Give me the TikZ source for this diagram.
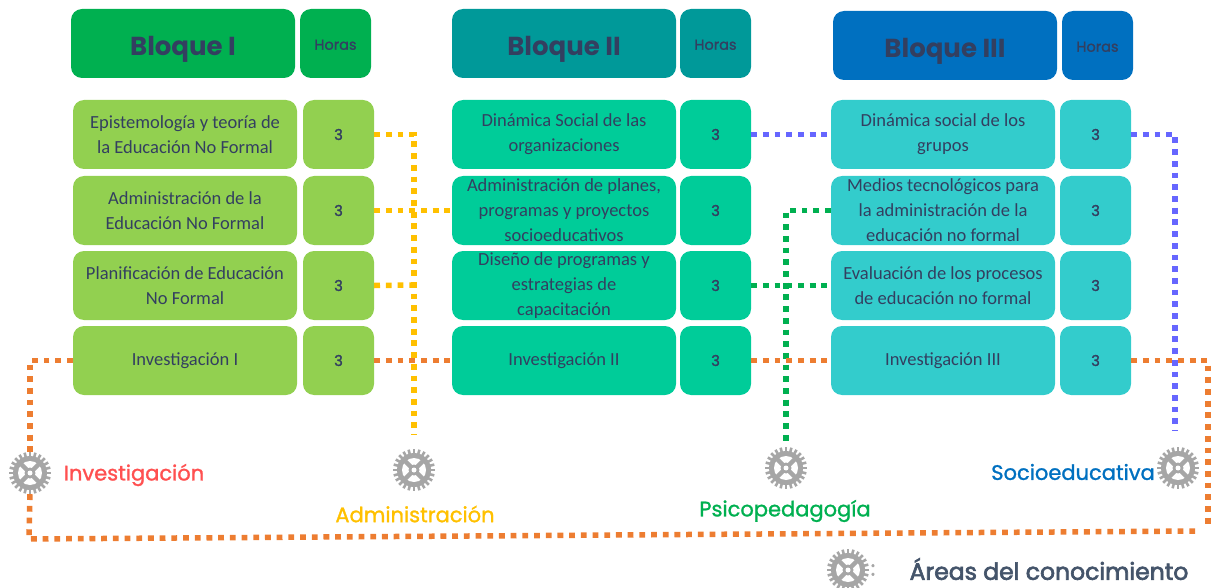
\documentclass[tikz,border=0pt]{standalone}
\usepackage{fontspec}
\setmainfont{Carlito}
\newfontfamily\gothic{Poppins}
\newfontfamily\gothicm[FakeBold=1.2]{Poppins}
\newfontfamily\gothicf[FakeBold=2.8]{Poppins}
\usetikzlibrary{calc}
\definecolor{tinta}{HTML}{333F60}
\definecolor{verdeA}{HTML}{00B050}
\definecolor{verdeB}{HTML}{009999}
\definecolor{azulC}{HTML}{0070C0}
\definecolor{filaA}{HTML}{92D050}
\definecolor{filaB}{HTML}{00CC99}
\definecolor{filaC}{HTML}{33CCCC}
\definecolor{naranja}{HTML}{ED7D31}
\definecolor{amarillo}{HTML}{FFC000}
\definecolor{morado}{HTML}{6666FF}
\definecolor{rojizo}{HTML}{FF5050}
\definecolor{engrane}{HTML}{A6A6A6}
\definecolor{pizarra}{HTML}{44546A}
\tikzset{
  caja/.style={rounded corners=11pt,inner sep=0pt,align=center,text=tinta,font=\fontsize{18.5}{25}\selectfont},
  titulo/.style={caja,minimum width=224pt,minimum height=69pt,text height=28pt,text depth=3pt,font=\gothic\bfseries\fontsize{26}{30}\selectfont},
  hora/.style={caja,minimum width=71pt,minimum height=69pt,text height=12.5pt,text depth=0pt,font=\gothicm\fontsize{14.5}{16}\selectfont},
  materia/.style={caja,minimum width=224pt,minimum height=69pt},
  materiauna/.style={materia,text height=15pt,text depth=4.6pt},
  horas/.style={caja,minimum width=71pt,minimum height=69pt,font=\gothicm\fontsize{15}{16}\selectfont},
  linea/.style={line width=5.5pt,dash pattern=on 5.8pt off 5.9pt},
  rueda/.style={circle,minimum size=42pt,inner sep=0pt},
  area/.style={font=\gothicm\fontsize{21}{24}\selectfont}
}
\newcommand{\dibujarueda}[1]{%
  \fill[engrane] (#1.center) circle (17pt);
  \foreach \a in {0,15,...,345}
    \draw[engrane,line width=2.6pt] ($(#1.center)+(\a:15pt)$) -- ($(#1.center)+(\a:21pt)$);
  \fill[white] (#1.center) circle (12pt);
  \foreach \a in {45,135,225,315}
    \draw[engrane,line width=4.5pt] (#1.center) -- ($(#1.center)+(\a:13pt)$);
  \fill[engrane] (#1.center) circle (5.5pt);
  \fill[white] (#1.center) circle (2.5pt);
}
\begin{document}
\begin{tikzpicture}[x=1pt,y=-1pt]
\useasboundingbox (0,0) rectangle (1217,588);
% encabezados
\node[titulo,fill=verdeA] (tI) at (183,43.5) {Bloque I};
\node[hora,fill=verdeA] (thI) at (335.5,43.5) {Horas};
\node[titulo,fill=verdeB] (tII) at (564,43.5) {Bloque II};
\node[hora,fill=verdeB] (thII) at (715.5,43.5) {Horas};
\node[titulo,fill=azulC] (tIII) at (945,45.5) {Bloque III};
\node[hora,fill=azulC] (thIII) at (1097.5,45.5) {Horas};
% primer bloque
\node[materia,fill=filaA] (mI1) at (185,134.5) {Epistemología y teoría de\\la Educación No Formal};
\node[materia,fill=filaA] (mI2) at (185,210.5) {Administración de la\\Educación No Formal};
\node[materia,fill=filaA] (mI3) at (185,285.5) {Planificación de Educación\\No Formal};
\node[materiauna,fill=filaA] (mI4) at (185,360.5) {Investigación I};
\node[horas,fill=filaA] (hI1) at (338.5,134.5) {3};
\node[horas,fill=filaA] (hI2) at (338.5,210.5) {3};
\node[horas,fill=filaA] (hI3) at (338.5,285.5) {3};
\node[horas,fill=filaA] (hI4) at (338.5,360.5) {3};
% segundo bloque
\node[materia,fill=filaB] (mII1) at (564,134.5) {Dinámica Social de las\\organizaciones};
\node[materia,fill=filaB] (mII2) at (564,210.5) {Administración de planes,\\programas y proyectos\\socioeducativos};
\node[materia,fill=filaB] (mII3) at (564,285.5) {Diseño de programas y\\estrategias de\\capacitación};
\node[materiauna,fill=filaB] (mII4) at (564,360.5) {Investigación II};
\node[horas,fill=filaB] (hII1) at (715.5,134.5) {3};
\node[horas,fill=filaB] (hII2) at (715.5,210.5) {3};
\node[horas,fill=filaB] (hII3) at (715.5,285.5) {3};
\node[horas,fill=filaB] (hII4) at (715.5,360.5) {3};
% tercer bloque
\node[materia,fill=filaC] (mIII1) at (943,134.5) {Dinámica social de los\\grupos};
\node[materia,fill=filaC] (mIII2) at (943,210.5) {Medios tecnológicos para\\la administración de la\\educación no formal};
\node[materia,fill=filaC] (mIII3) at (943,285.5) {Evaluación de los procesos\\de educación no formal};
\node[materiauna,fill=filaC] (mIII4) at (943,360.5) {Investigación III};
\node[horas,fill=filaC] (hIII1) at (1095.5,134.5) {3};
\node[horas,fill=filaC] (hIII2) at (1095.5,210.5) {3};
\node[horas,fill=filaC] (hIII3) at (1095.5,285.5) {3};
\node[horas,fill=filaC] (hIII4) at (1095.5,360.5) {3};
% ruedas
\node[rueda] (gInv) at (30,473) {};
\node[rueda] (gAdm) at (414,470) {};
\node[rueda] (gPsi) at (786,468) {};
\node[rueda] (gSoc) at (1178,468) {};
\node[rueda] (gLey) at (848,570) {};
\coordinate (cAdm) at (414,285);
\coordinate (esqA) at (29,539);
\coordinate (esqB) at (1199,531);
\coordinate (esqC) at (1208,525);
% lineas
\draw[linea,amarillo,shorten >=14pt] (hI1.east) -| (gAdm.north);
\draw[linea,amarillo] (hI2.east) -- (mII2.west);
\draw[linea,amarillo] (hI3.east) -- (cAdm);
\draw[linea,morado] (hII1.east) -- (mIII1.west);
\draw[linea,morado,shorten >=16pt] (hIII1.east) -| ([xshift=-3pt]gSoc.north);
\draw[linea,verdeA,shorten >=2pt] (mIII2.west) -| (gPsi.north);
\draw[linea,verdeA] (hII3.east) -- (mIII3.west);
\draw[linea,naranja] (mI4.west) -| (gInv.north);
\draw[linea,naranja] (hI4.east) -- (mII4.west);
\draw[linea,naranja] (hII4.east) -- (mIII4.west);
\draw[linea,naranja] (gInv.south) -- (esqA) -- (esqB);
\draw[linea,naranja] (hIII4.east) -| (esqC);
\dibujarueda{gInv}
\dibujarueda{gAdm}
\dibujarueda{gPsi}
\dibujarueda{gSoc}
\dibujarueda{gLey}
% textos
\node[area,text=rojizo] (aInv) at (134,475) {Investigación};
\node[area,text=amarillo] (aAdm) at (415,514) {Administración};
\node[area,text=verdeA] (aPsi) at (785,511) {Psicopedagogía};
\node[area,text=azulC] (aSoc) at (1073,472) {Socioeducativa};
\node[font=\gothicf\fontsize{20}{22}\selectfont,text=engrane] (dosp) at (873,570) {:};
\node[font=\gothicf\fontsize{23.5}{25}\selectfont,text=pizarra] (aLey) at (1049,569) {Áreas del conocimiento};
\end{tikzpicture}
\end{document}
